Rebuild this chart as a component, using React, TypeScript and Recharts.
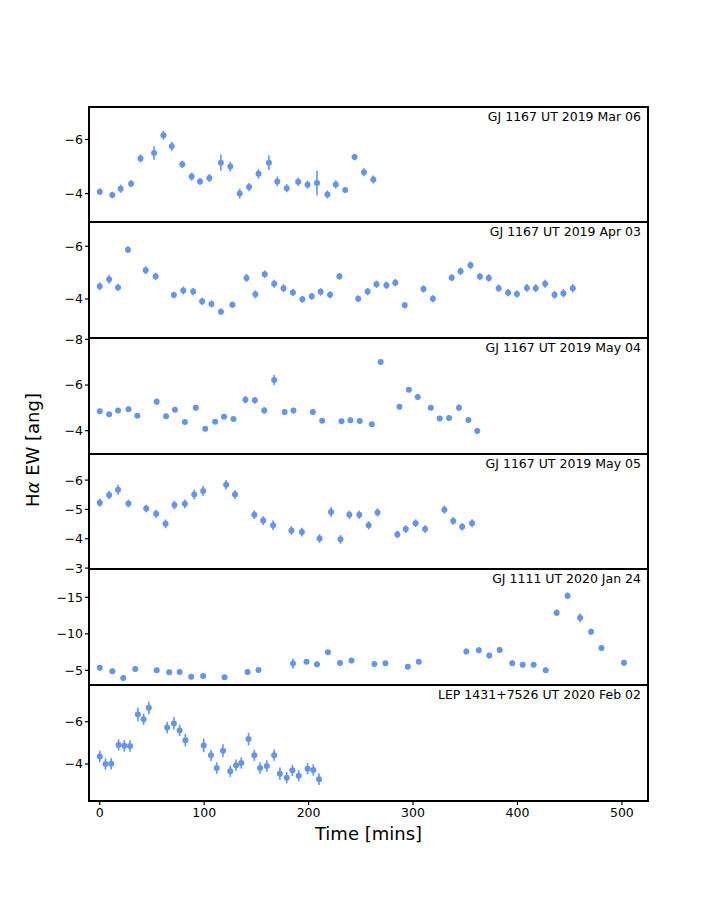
import React from 'react';
import { ScatterChart, Scatter, XAxis, YAxis, ErrorBar } from 'recharts';

const COLOR = '#6495ED';
const FONT = '"DejaVu Sans", sans-serif';

// ---- Data ----
const t1 = [0, 12, 20, 30, 39, 52, 61, 69, 79, 88, 96, 105, 116, 125, 134, 143, 152, 162, 170, 179, 190, 199, 208, 218, 226, 235, 244, 253, 262];
const v1 = [-4.07, -3.95, -4.18, -4.36, -5.3, -5.5, -6.16, -5.75, -5.08, -4.63, -4.45, -4.58, -5.14, -5.0, -4.0, -4.24, -4.73, -5.14, -4.45, -4.2, -4.44, -4.33, -4.39, -3.97, -4.34, -4.13, -5.35, -4.79, -4.52];
const e1 = [0.12, 0.12, 0.15, 0.13, 0.15, 0.25, 0.17, 0.17, 0.13, 0.15, 0.13, 0.15, 0.3, 0.18, 0.18, 0.15, 0.18, 0.28, 0.18, 0.15, 0.15, 0.15, 0.45, 0.15, 0.15, 0.1, 0.12, 0.15, 0.15];

const t2 = [0, 9, 17.5, 27, 44, 53.5, 71, 80, 89.5, 98, 107, 116, 127, 140.5, 149, 158, 167, 176, 185, 194, 203, 211.5, 220.5, 229.5, 247.5, 256.5, 265, 274.5, 283, 292, 310, 319, 337, 345.5, 355, 364, 372.5, 382, 391, 399.5, 409, 417.5, 426.5, 435.5, 444, 453];
const v2 = [-4.48, -4.75, -4.44, -5.87, -5.09, -4.86, -4.15, -4.32, -4.28, -3.91, -3.81, -3.52, -3.78, -4.8, -4.18, -4.94, -4.58, -4.41, -4.25, -3.99, -4.1, -4.27, -4.16, -4.86, -4.01, -4.28, -4.56, -4.52, -4.62, -3.76, -4.38, -4.01, -4.81, -5.05, -5.28, -4.85, -4.8, -4.41, -4.24, -4.19, -4.42, -4.41, -4.58, -4.16, -4.22, -4.41];
const e2 = [0.15, 0.17, 0.14, 0.13, 0.15, 0.14, 0.12, 0.15, 0.14, 0.14, 0.13, 0.12, 0.12, 0.15, 0.15, 0.14, 0.15, 0.15, 0.14, 0.13, 0.13, 0.14, 0.13, 0.13, 0.13, 0.14, 0.14, 0.14, 0.14, 0.12, 0.14, 0.13, 0.13, 0.14, 0.15, 0.14, 0.14, 0.14, 0.14, 0.13, 0.15, 0.15, 0.15, 0.15, 0.16, 0.16];

const t3 = [0, 9, 17.5, 27.5, 36, 54.5, 63.5, 72, 81.5, 92, 101, 110.5, 119, 128, 139.5, 148.5, 157.5, 167, 177, 185.5, 204, 213, 231.5, 240, 249, 260.5, 269, 287, 296, 304.5, 317, 325.5, 334.5, 344, 353, 361.5];
const v3 = [-4.85, -4.72, -4.88, -4.94, -4.66, -5.27, -4.63, -4.92, -4.38, -5.0, -4.09, -4.39, -4.61, -4.51, -5.36, -5.33, -4.89, -6.22, -4.82, -4.88, -4.82, -4.44, -4.41, -4.46, -4.43, -4.28, -7.01, -5.05, -5.79, -5.48, -5.01, -4.53, -4.56, -5.01, -4.47, -3.99];
const e3 = [0.1, 0.1, 0.1, 0.12, 0.1, 0.14, 0.1, 0.1, 0.1, 0.12, 0.1, 0.1, 0.1, 0.1, 0.16, 0.15, 0.15, 0.22, 0.12, 0.12, 0.1, 0.1, 0.1, 0.1, 0.1, 0.1, 0.1, 0.1, 0.1, 0.1, 0.1, 0.1, 0.1, 0.15, 0.1, 0.12];

const t4 = [0, 9, 17.5, 27.5, 44.5, 54, 63, 71.5, 81.5, 90.5, 99, 121, 129.5, 148, 156.5, 166, 183.5, 193.5, 210.5, 221.5, 230.5, 239, 248.5, 257.5, 266, 285, 293, 302.5, 311.5, 330, 338.5, 347, 356.5];
const v4 = [-5.23, -5.49, -5.67, -5.2, -5.03, -4.85, -4.51, -5.15, -5.19, -5.51, -5.63, -5.84, -5.51, -4.82, -4.62, -4.46, -4.28, -4.23, -4.01, -4.91, -3.98, -4.82, -4.82, -4.46, -4.9, -4.15, -4.33, -4.53, -4.33, -4.99, -4.61, -4.41, -4.53];
const e4 = [0.14, 0.14, 0.17, 0.13, 0.13, 0.14, 0.15, 0.15, 0.15, 0.17, 0.17, 0.16, 0.15, 0.15, 0.15, 0.16, 0.15, 0.15, 0.15, 0.17, 0.15, 0.14, 0.14, 0.14, 0.14, 0.13, 0.13, 0.13, 0.13, 0.14, 0.13, 0.13, 0.14];

const t5 = [0, 12, 22.5, 34, 54.5, 66.5, 76.5, 87.5, 99, 119.5, 141.5, 152, 185, 198, 208, 218.5, 230, 241, 263, 273.5, 295, 305.5, 351, 363, 373, 383, 395, 405, 415.5, 427, 437.5, 448, 460, 470.5, 480.5, 502];
const v5 = [-5.36, -4.87, -3.95, -5.19, -5.0, -4.73, -4.77, -4.13, -4.22, -4.04, -4.77, -5.05, -5.92, -6.19, -5.83, -7.48, -6.01, -6.33, -5.87, -5.97, -5.5, -6.19, -7.57, -7.76, -7.02, -7.8, -5.97, -5.78, -5.78, -5.01, -12.89, -15.23, -12.2, -10.28, -8.07, -6.05];
const e5 = [0.35, 0.35, 0.35, 0.35, 0.35, 0.35, 0.35, 0.35, 0.35, 0.35, 0.35, 0.35, 0.7, 0.35, 0.35, 0.35, 0.35, 0.35, 0.35, 0.35, 0.35, 0.35, 0.4, 0.4, 0.4, 0.4, 0.35, 0.35, 0.35, 0.35, 0.45, 0.45, 0.6, 0.4, 0.4, 0.4];

const t6 = [0, 5.5, 11, 18, 23.5, 29, 36.5, 42, 47, 64.5, 71, 76.5, 82, 99.5, 106.5, 112, 118, 125, 130.5, 135.5, 142.5, 148, 153.5, 160, 167, 172.5, 179, 184.5, 190.5, 199, 204.5, 210];
const v6 = [-4.36, -4.0, -4.01, -4.9, -4.86, -4.85, -6.34, -6.12, -6.66, -5.73, -5.92, -5.59, -5.13, -4.88, -4.41, -3.81, -4.63, -3.66, -3.94, -4.05, -5.18, -4.41, -3.81, -3.91, -4.42, -3.54, -3.35, -3.7, -3.45, -3.78, -3.72, -3.28];
const e6 = [0.27, 0.27, 0.27, 0.27, 0.27, 0.27, 0.32, 0.27, 0.3, 0.27, 0.3, 0.27, 0.3, 0.32, 0.27, 0.27, 0.3, 0.27, 0.27, 0.27, 0.3, 0.27, 0.27, 0.27, 0.27, 0.3, 0.27, 0.27, 0.27, 0.27, 0.27, 0.27];

const titles = [
  'GJ 1167 UT 2019 Mar 06',
  'GJ 1167 UT 2019 Apr 03',
  'GJ 1167 UT 2019 May 04',
  'GJ 1167 UT 2019 May 05',
  'GJ 1111 UT 2020 Jan 24',
  'LEP 1431+7526 UT 2020 Feb 02',
];

const yDomains: [number, number][] = [
  [-7.2, -2.95],
  [-6.92, -2.52],
  [-8.06, -2.98],
  [-6.89, -2.97],
  [-18.88, -2.99],
  [-7.74, -2.25],
];

const yTicks = [
  [-6, -4],
  [-6, -4],
  [-8, -6, -4],
  [-6, -5, -4, -3],
  [-15, -10, -5],
  [-6, -4],
];

const xTicks = [0, 100, 200, 300, 400, 500];
const X_DOMAIN: [number, number] = [-10.3, 525];

const series = [
  [t1, v1, e1],
  [t2, v2, e2],
  [t3, v3, e3],
  [t4, v4, e4],
  [t5, v5, e5],
  [t6, v6, e6],
];

// ---- Layout ----
const PLOT_LEFT = 89;
const PLOT_RIGHT = 648;
const CHART_W = 720;
const panelTops = [107, 222, 338, 454, 569, 685];
const PANEL_BOTTOM = 801;
const X_AXIS_H = 40;
const PAD = 10;

const fmt = (v: number) => String(v).replace('-', '\u2212');

const Dot = (props: any) => {
  if (props.cx == null || props.cy == null) return null;
  return <circle cx={props.cx} cy={props.cy} r={3} fill={COLOR} />;
};

function Panel({ idx }: { idx: number }) {
  const [t, v, e] = series[idx];
  const data = t.map((x, i) => ({ t: x, v: v[i], e: e[i] }));
  const top = panelTops[idx];
  const bottom = idx < 5 ? panelTops[idx + 1] : PANEL_BOTTOM;
  const h = bottom - top;
  const last = idx === 5;
  const chartH = h + 2 * PAD + (last ? X_AXIS_H : 0);
  return (
    <div style={{ position: 'absolute', left: 0, top: top - PAD, width: CHART_W, height: chartH }}>
      <ScatterChart
        width={CHART_W}
        height={chartH}
        margin={{ top: PAD, right: CHART_W - PLOT_RIGHT, bottom: PAD, left: 0 }}
        style={{ overflow: 'visible' }}
      >
        <XAxis
          type="number"
          dataKey="t"
          domain={X_DOMAIN}
          allowDataOverflow
          hide={!last}
          ticks={xTicks}
          height={X_AXIS_H}
          tickSize={4}
          tickMargin={3}
          axisLine={false}
          tickLine={{ stroke: '#000', strokeWidth: 1.2 }}
          tick={{ fill: '#000', fontSize: 12.5, fontFamily: FONT }}
          tickFormatter={fmt}
        />
        <YAxis
          type="number"
          dataKey="v"
          domain={yDomains[idx]}
          allowDataOverflow
          reversed
          ticks={yTicks[idx]}
          width={PLOT_LEFT}
          tickSize={4}
          tickMargin={2}
          axisLine={false}
          tickLine={{ stroke: '#000', strokeWidth: 1.2 }}
          tick={{ fill: '#000', fontSize: 12.5, fontFamily: FONT }}
          tickFormatter={fmt}
          interval={0}
        />
        <Scatter data={data} dataKey="v" isAnimationActive={false} shape={Dot} fill={COLOR}>
          <ErrorBar dataKey="e" direction="y" width={0} stroke={COLOR} strokeWidth={1.6} />
        </Scatter>
      </ScatterChart>
      <div
        style={{
          position: 'absolute',
          left: PLOT_LEFT - 1,
          top: PAD - 1,
          width: PLOT_RIGHT - PLOT_LEFT + 2,
          height: h + 2,
          border: '2px solid #000',
          boxSizing: 'border-box',
          pointerEvents: 'none',
        }}
      />
      <div
        style={{
          position: 'absolute',
          right: CHART_W - 641,
          top: PAD + 2,
          fontFamily: FONT,
          fontSize: 12.5,
          color: '#000',
          whiteSpace: 'nowrap',
          lineHeight: '15px',
        }}
      >
        {titles[idx]}
      </div>
    </div>
  );
}

export default function App() {
  return (
    <div style={{ position: 'absolute', left: 0, top: 0, width: 720, height: 900, background: '#fff' }}>
      <svg width={720} height={900} style={{ position: 'absolute', left: 0, top: 0 }}>
        <text
          x={32}
          y={450}
          transform="rotate(-90 32 450)"
          textAnchor="middle"
          dominantBaseline="central"
          fontFamily={FONT}
          fontSize={18}
          fill="#000"
        >
          H<tspan fontStyle="italic">α</tspan> EW [ang]
        </text>
        <text
          x={(PLOT_LEFT + PLOT_RIGHT) / 2}
          y={833}
          textAnchor="middle"
          dominantBaseline="central"
          fontFamily={FONT}
          fontSize={18}
          fill="#000"
        >
          Time [mins]
        </text>
      </svg>
      {[0, 1, 2, 3, 4, 5].map((i) => (
        <Panel key={i} idx={i} />
      ))}
    </div>
  );
}
